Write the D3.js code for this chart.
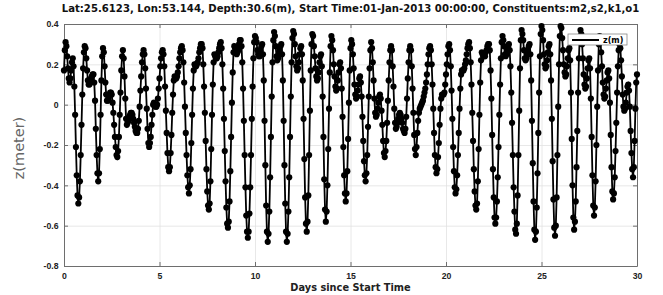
<!DOCTYPE html>
<html>
<head>
<meta charset="utf-8">
<script src="https://cdn.jsdelivr.net/npm/d3@7"></script>
<style>
  body { margin: 0; background: #fff; }
  svg { display: block; font-family: "DejaVu Sans", sans-serif; }
  .grid line { stroke: #e2e2e2; stroke-width: 0.8; }
  .grid .domain { display: none; }
  .axis .domain { stroke: #6e6e6e; stroke-width: 1; }
  .axis line { stroke: #6e6e6e; }
  .axis text { font-weight: bold; font-size: 8.7px; fill: #222; }
</style>
</head>
<body>
<svg id="chart" width="663" height="295"></svg>
<script>
const titleText = 'Lat:25.6123, Lon:53.144, Depth:30.6(m), Start Time:01-Jan-2013 00:00:00, Constituents:m2,s2,k1,o1';
const xLabel = 'Days since Start Time';
const yLabel = 'z(meter)';
const seriesName = 'z(m)';
const xTicks = [0, 5, 10, 15, 20, 25, 30];
const yTicks = [0.4, 0.2, 0, -0.2, -0.4, -0.6, -0.8];
const samplesPerDay = 24; // hourly values

// water level z (m), hourly from 01-Jan-2013 00:00
const zDays00to04 = [
  0.17, 0.27, 0.31, 0.29, 0.24, 0.18, 0.13, 0.11, 0.13, 0.17, 0.21, 0.23, 0.19, 0.09, -0.05, -0.21, -0.35, -0.45, -0.49, -0.46, -0.38, -0.25, -0.10, 0.05,
  0.18, 0.26, 0.29, 0.28, 0.23, 0.17, 0.12, 0.10, 0.10, 0.11, 0.13, 0.14, 0.15, 0.15, 0.11, 0.02, -0.12, -0.25, -0.34, -0.38, -0.34, -0.22, -0.05, 0.12,
  0.24, 0.28, 0.26, 0.19, 0.11, 0.05, 0.02, 0.02, 0.03, 0.05, 0.06, 0.06, 0.05, 0.01, -0.04, -0.10, -0.16, -0.21, -0.25, -0.26, -0.23, -0.16, -0.05, 0.06,
  0.17, 0.24, 0.27, 0.23, 0.14, 0.03, -0.07, -0.10, -0.09, -0.08, -0.06, -0.05, -0.04, -0.04, -0.05, -0.07, -0.09, -0.11, -0.13, -0.14, -0.14, -0.12, -0.08, -0.01,
  0.07, 0.14, 0.21, 0.25, 0.27, 0.25, 0.18, 0.08, -0.02, -0.12, -0.19, -0.21, -0.19, -0.16, -0.10, -0.05, 0.00, 0.01, 0.00, -0.01, -0.01, 0.00, 0.03, 0.08
];
const zDays05to09 = [
  0.13, 0.19, 0.23, 0.26, 0.27, 0.25, 0.19, 0.09, -0.03, -0.14, -0.24, -0.31, -0.33, -0.31, -0.24, -0.15, -0.04, 0.05, 0.12, 0.14, 0.13, 0.13, 0.14, 0.16,
  0.19, 0.23, 0.26, 0.28, 0.29, 0.27, 0.21, 0.11, -0.01, -0.14, -0.25, -0.35, -0.41, -0.44, -0.40, -0.32, -0.19, -0.05, 0.08, 0.17, 0.20, 0.19, 0.19, 0.20,
  0.21, 0.23, 0.26, 0.28, 0.30, 0.30, 0.28, 0.20, 0.09, -0.04, -0.18, -0.32, -0.43, -0.50, -0.52, -0.49, -0.38, -0.22, -0.05, 0.10, 0.21, 0.25, 0.24, 0.23,
  0.23, 0.24, 0.26, 0.28, 0.30, 0.31, 0.28, 0.20, 0.08, -0.07, -0.23, -0.38, -0.51, -0.59, -0.61, -0.58, -0.48, -0.33, -0.16, 0.01, 0.16, 0.26, 0.29, 0.28,
  0.26, 0.25, 0.26, 0.27, 0.30, 0.32, 0.32, 0.29, 0.21, 0.08, -0.08, -0.25, -0.41, -0.55, -0.63, -0.66, -0.63, -0.54, -0.41, -0.25, -0.07, 0.09, 0.23, 0.31
];
const zDays10to14 = [
  0.34, 0.33, 0.31, 0.27, 0.25, 0.24, 0.24, 0.27, 0.29, 0.30, 0.25, 0.12, -0.08, -0.30, -0.50, -0.63, -0.68, -0.64, -0.53, -0.36, -0.16, 0.04, 0.21, 0.32,
  0.36, 0.34, 0.29, 0.24, 0.22, 0.23, 0.25, 0.27, 0.29, 0.30, 0.25, 0.12, -0.08, -0.30, -0.49, -0.63, -0.68, -0.64, -0.53, -0.36, -0.16, 0.04, 0.21, 0.33,
  0.365, 0.35, 0.30, 0.24, 0.19, 0.17, 0.18, 0.21, 0.25, 0.28, 0.29, 0.25, 0.12, -0.07, -0.27, -0.46, -0.59, -0.63, -0.58, -0.45, -0.25, -0.03, 0.17, 0.30,
  0.35, 0.34, 0.29, 0.24, 0.18, 0.14, 0.12, 0.13, 0.16, 0.21, 0.24, 0.25, 0.19, 0.04, -0.16, -0.37, -0.52, -0.58, -0.53, -0.40, -0.22, -0.02, 0.16, 0.29,
  0.34, 0.32, 0.27, 0.20, 0.14, 0.09, 0.07, 0.08, 0.12, 0.16, 0.20, 0.21, 0.18, 0.08, -0.06, -0.21, -0.35, -0.44, -0.48, -0.44, -0.33, -0.17, 0.01, 0.17
];
const zDays15to19 = [
  0.28, 0.32, 0.30, 0.25, 0.18, 0.10, 0.05, 0.03, 0.04, 0.07, 0.10, 0.13, 0.14, 0.11, 0.04, -0.06, -0.18, -0.28, -0.35, -0.38, -0.34, -0.25, -0.11, 0.04,
  0.18, 0.27, 0.31, 0.28, 0.21, 0.12, 0.03, -0.04, -0.06, -0.05, -0.02, 0.01, 0.04, 0.05, 0.03, -0.03, -0.10, -0.18, -0.24, -0.26, -0.23, -0.18, -0.09, 0.02,
  0.12, 0.21, 0.27, 0.29, 0.27, 0.19, 0.09, -0.02, -0.09, -0.12, -0.11, -0.09, -0.07, -0.05, -0.04, -0.05, -0.07, -0.09, -0.12, -0.13, -0.14, -0.12, -0.06, 0.03,
  0.13, 0.21, 0.27, 0.29, 0.27, 0.19, 0.08, -0.04, -0.15, -0.22, -0.25, -0.21, -0.14, -0.08, -0.04, -0.02, -0.01, 0.00, 0.01, 0.02, 0.04, 0.06, 0.08, 0.11,
  0.15, 0.20, 0.25, 0.28, 0.29, 0.27, 0.20, 0.10, -0.02, -0.14, -0.25, -0.31, -0.34, -0.32, -0.26, -0.19, -0.10, -0.02, 0.03, 0.05, 0.05, 0.05, 0.06, 0.10
];
const zDays20to24 = [
  0.15, 0.20, 0.25, 0.29, 0.30, 0.27, 0.19, 0.07, -0.07, -0.21, -0.33, -0.41, -0.44, -0.42, -0.35, -0.25, -0.14, -0.02, 0.08, 0.15, 0.17, 0.17, 0.17, 0.18,
  0.20, 0.22, 0.25, 0.28, 0.30, 0.31, 0.28, 0.21, 0.10, -0.04, -0.18, -0.32, -0.43, -0.50, -0.52, -0.49, -0.38, -0.22, -0.05, 0.11, 0.22, 0.26, 0.25, 0.24,
  0.24, 0.24, 0.26, 0.27, 0.29, 0.30, 0.30, 0.27, 0.17, 0.03, -0.15, -0.32, -0.46, -0.56, -0.59, -0.56, -0.48, -0.36, -0.21, -0.05, 0.10, 0.23, 0.31, 0.34,
  0.32, 0.29, 0.25, 0.24, 0.25, 0.27, 0.29, 0.30, 0.27, 0.19, 0.06, -0.09, -0.25, -0.41, -0.53, -0.62, -0.64, -0.59, -0.45, -0.25, -0.03, 0.18, 0.32, 0.37,
  0.35, 0.32, 0.27, 0.23, 0.22, 0.23, 0.25, 0.27, 0.29, 0.30, 0.25, 0.12, -0.08, -0.29, -0.48, -0.62, -0.67, -0.63, -0.51, -0.34, -0.14, 0.06, 0.24, 0.35
];
const zDays25to30 = [
  0.39, 0.37, 0.32, 0.25, 0.20, 0.18, 0.19, 0.22, 0.26, 0.29, 0.30, 0.25, 0.12, -0.07, -0.28, -0.47, -0.61, -0.65, -0.60, -0.46, -0.25, -0.01, 0.20, 0.34,
  0.39, 0.38, 0.33, 0.27, 0.20, 0.16, 0.14, 0.15, 0.19, 0.23, 0.27, 0.28, 0.22, 0.06, -0.17, -0.40, -0.56, -0.62, -0.58, -0.48, -0.31, -0.13, 0.06, 0.23,
  0.33, 0.37, 0.35, 0.30, 0.23, 0.15, 0.10, 0.08, 0.09, 0.13, 0.18, 0.22, 0.23, 0.18, 0.03, -0.16, -0.35, -0.50, -0.55, -0.51, -0.38, -0.20, -0.01, 0.17,
  0.30, 0.34, 0.32, 0.26, 0.19, 0.11, 0.05, 0.03, 0.04, 0.08, 0.12, 0.16, 0.17, 0.13, 0.01, -0.15, -0.31, -0.43, -0.47, -0.44, -0.36, -0.23, -0.09, 0.06,
  0.19, 0.27, 0.30, 0.28, 0.22, 0.14, 0.05, -0.01, -0.03, -0.02, 0.01, 0.06, 0.09, 0.10, 0.07, -0.01, -0.13, -0.24, -0.32, -0.36, -0.31, -0.18, -0.02, 0.11,
  0.15
];

const zValues = [].concat(zDays00to04, zDays05to09, zDays10to14, zDays15to19, zDays20to24, zDays25to30);
const points = zValues.map((z, i) => ({ day: i / samplesPerDay, z: z }));

const svg = d3.select('#chart');
const margin = { top: 24, right: 26, bottom: 29, left: 64 };
const width = 663 - margin.left - margin.right;
const height = 295 - margin.top - margin.bottom;

const g = svg.append('g')
  .attr('transform', 'translate(' + margin.left + ',' + margin.top + ')');

const x = d3.scaleLinear().domain([0, 30]).range([0, width]);
const y = d3.scaleLinear().domain([-0.8, 0.4]).range([height, 0]);

// grid
g.append('g')
  .attr('class', 'grid')
  .attr('transform', 'translate(0,' + height + ')')
  .call(d3.axisBottom(x).tickValues(xTicks).tickSize(-height).tickFormat(''));
g.append('g')
  .attr('class', 'grid')
  .call(d3.axisLeft(y).tickValues(yTicks).tickSize(-width).tickFormat(''));

// box axes, ticks pointing inward
g.append('g')
  .attr('class', 'axis')
  .attr('transform', 'translate(0,' + height + ')')
  .call(d3.axisBottom(x).tickValues(xTicks).tickSizeInner(-4).tickSizeOuter(0).tickPadding(7).tickFormat(d => String(d)));
g.append('g')
  .attr('class', 'axis')
  .call(d3.axisLeft(y).tickValues(yTicks).tickSizeInner(-4).tickSizeOuter(0).tickPadding(5.5).tickFormat(d => String(d)));
g.append('g')
  .attr('class', 'axis')
  .call(d3.axisTop(x).tickValues(xTicks).tickSizeInner(-4).tickSizeOuter(0).tickFormat(''));
g.append('g')
  .attr('class', 'axis')
  .attr('transform', 'translate(' + width + ',0)')
  .call(d3.axisRight(y).tickValues(yTicks).tickSizeInner(-4).tickSizeOuter(0).tickFormat(''));

// series: line with filled round markers
const line = d3.line()
  .x(d => x(d.day))
  .y(d => y(d.z));

g.append('path')
  .datum(points)
  .attr('d', line)
  .attr('fill', 'none')
  .attr('stroke', '#000')
  .attr('stroke-width', 1.8);

g.selectAll('circle.pt')
  .data(points)
  .enter()
  .append('circle')
  .attr('class', 'pt')
  .attr('cx', d => x(d.day))
  .attr('cy', d => y(d.z))
  .attr('r', 3.1)
  .attr('fill', '#000');

// legend
const legend = g.append('g').attr('transform', 'translate(' + (width - 69) + ',10)');
legend.append('rect')
  .attr('width', 59).attr('height', 11)
  .attr('fill', '#fff').attr('stroke', '#777').attr('stroke-width', 0.7);
legend.append('line')
  .attr('x1', 4).attr('x2', 31).attr('y1', 6).attr('y2', 6)
  .attr('stroke', '#000').attr('stroke-width', 2);
legend.append('text')
  .attr('x', 35).attr('y', 9)
  .style('font-size', '8px').style('font-weight', 'bold')
  .text(seriesName);

// title
const title = svg.append('text')
  .attr('x', margin.left + width / 2)
  .attr('y', 12)
  .attr('text-anchor', 'middle')
  .style('font-size', '9.5px')
  .style('font-weight', 'bold')
  .style('fill', '#111')
  .text(titleText);
const titleW = title.node().getComputedTextLength();
title.style('font-size', (9.5 * 578 / titleW) + 'px');

// axis labels
svg.append('text')
  .attr('x', margin.left + width / 2)
  .attr('y', 291)
  .attr('text-anchor', 'middle')
  .style('font-size', '9.8px')
  .style('font-weight', 'bold')
  .style('fill', '#222')
  .text(xLabel);

svg.append('text')
  .attr('transform', 'translate(24,148) rotate(-90)')
  .attr('text-anchor', 'middle')
  .style('font-size', '14.5px')
  .style('fill', '#666')
  .text(yLabel);
</script>
</body>
</html>
